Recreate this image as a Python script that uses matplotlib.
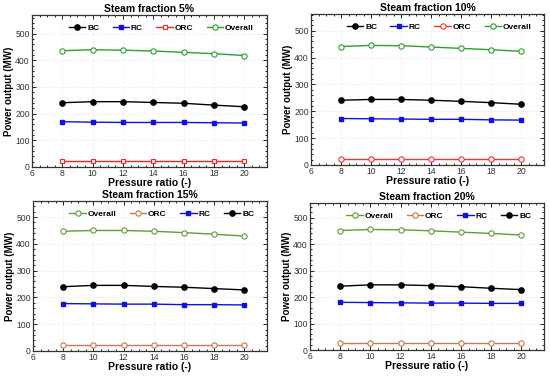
import matplotlib
matplotlib.use("Agg")
import matplotlib.pyplot as plt
from matplotlib.ticker import MultipleLocator

plt.rcParams['font.family'] = ['Liberation Sans', 'DejaVu Sans']

pressure_ratio = [8, 10, 12, 14, 16, 18, 20]

titles = ["Steam fraction 5%", "Steam fraction 10%", "Steam fraction 15%", "Steam fraction 20%"]

bc = [
    [241, 245, 245, 242, 239, 232, 226],
    [241, 244, 244, 241, 237, 232, 226],
    [240, 245, 245, 241, 238, 233, 228],
    [241, 246, 246, 243, 239, 233, 228],
]
rc = [
    [170, 168, 167, 167, 167, 166, 165],
    [173, 172, 171, 170, 170, 168, 167],
    [177, 176, 175, 175, 173, 173, 172],
    [180, 179, 178, 177, 177, 176, 176],
]
orc = [
    [23, 23, 23, 23, 23, 23, 23],
    [24, 24, 24, 24, 24, 24, 24],
    [24, 24, 24, 24, 24, 24, 24],
    [26, 26, 26, 26, 26, 26, 26],
]
overall = [
    [436, 440, 438, 435, 430, 425, 418],
    [441, 445, 444, 439, 434, 429, 423],
    [447, 450, 450, 447, 442, 436, 429],
    [451, 455, 454, 450, 445, 440, 434],
]

fig = plt.figure(figsize=(5.5, 3.77), dpi=100)
W, H = 550, 377
boxes = [
    (32, 15, 267, 167),
    (311, 14, 544, 165),
    (33, 201, 267, 351),
    (310, 203, 544, 350),
]
ytops = [570, 562, 560, 555]

orc_color = ['#ff2020', '#ff3030', '#c8784a', '#c8784a']
ovr_color = ['#2ea02e', '#2ea02e', '#5f9e3a', '#5f9e3a']
orc_marker = ['s', 'o', 'o', 'o']
orc_ms = [3.0, 3.8, 3.8, 3.8]

for i in range(4):
    l, t, r, b = boxes[i]
    ax = fig.add_axes([l / W, 1 - b / H, (r - l) / W, (b - t) / H])
    hb, = ax.plot(pressure_ratio, bc[i], color='black', marker='o', ms=3.8, lw=1.0, label='BC')
    hr, = ax.plot(pressure_ratio, rc[i], color='#1010e0', marker='s', ms=3.2, lw=1.0, label='RC')
    ho, = ax.plot(pressure_ratio, orc[i], color=orc_color[i], marker=orc_marker[i], ms=orc_ms[i],
                  lw=1.0, mfc='white', mew=0.8, label='ORC')
    hv, = ax.plot(pressure_ratio, overall[i], color=ovr_color[i], marker='o', ms=3.8, lw=1.0,
                  mfc='white', mew=0.8, label='Overall')
    ax.set_xlim(6, 21.5)
    ax.set_ylim(0, ytops[i])
    ax.xaxis.set_major_locator(MultipleLocator(2))
    ax.xaxis.set_minor_locator(MultipleLocator(0.5))
    ax.yaxis.set_major_locator(MultipleLocator(100))
    ax.yaxis.set_minor_locator(MultipleLocator(20))
    ax.tick_params(which='both', direction='in', top=True, right=True, labelsize=6.2,
                   labelcolor='#333333', width=0.6, pad=1.5)
    ax.tick_params(which='major', length=3)
    ax.tick_params(which='minor', length=1.5)
    ax.grid(True, which='major', color='#dddddd', lw=0.5, ls=':')
    for s in ax.spines.values():
        s.set_linewidth(0.9)
        s.set_color('#333333')
    ax.set_title(titles[i], fontsize=7.5, fontweight='bold', pad=2)
    ax.set_xlabel('Pressure ratio (-)', fontsize=7.5, fontweight='bold', labelpad=0)
    ax.set_ylabel('Power output (MW)', fontsize=7, fontweight='bold', labelpad=1)
    if i < 2:
        handles = [hb, hr, ho, hv]
    else:
        handles = [hv, ho, hr, hb]
    ax.legend(handles=handles, ncol=4, loc='upper center', bbox_to_anchor=(0.55, 0.98),
              frameon=False, prop={'weight': 'bold', 'size': 6},
              handlelength=2.0, handletextpad=0.2, columnspacing=1.6, borderaxespad=0.3)

fig.savefig('out.png', dpi=100)
